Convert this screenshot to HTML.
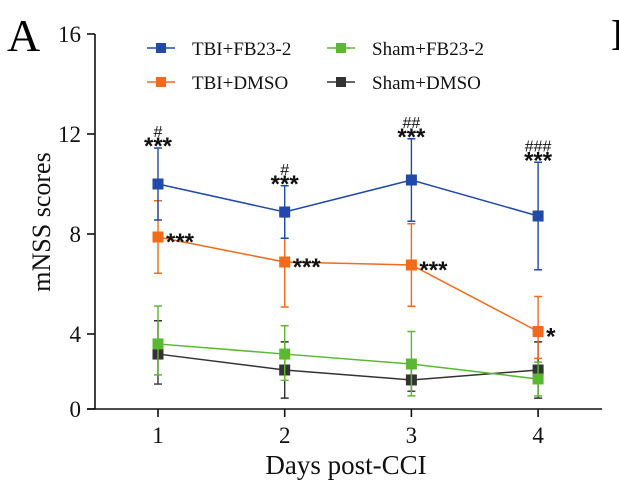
<!DOCTYPE html>
<html><head><meta charset="utf-8"><style>
html,body{margin:0;padding:0;background:#fff;}
svg{display:block;font-family:"Liberation Serif",serif;}
</style></head><body>
<svg id="chart" width="619" height="487" viewBox="0 0 619 487" xmlns="http://www.w3.org/2000/svg">
<text x="7" y="51" font-size="46">A</text>
<text x="611" y="50" font-size="46">B</text>
<g id="axes"></g>
<g id="series"></g>
<g id="legend"></g>
</svg>
<script>
const days = [1, 2, 3, 4];
const yTicks = [0, 4, 8, 12, 16];
const seriesNames = ["TBI+FB23-2", "TBI+DMSO", "Sham+FB23-2", "Sham+DMSO"];
const blueMean = [10.0, 8.88, 10.16, 8.72];
const blueErr = [1.44, 1.05, 1.65, 2.15];
const orangeMean = [7.88, 6.88, 6.76, 4.1];
const orangeErr = [1.45, 1.8, 1.65, 1.4];
const greenMean = [3.47, 2.93, 2.4, 1.6];
const greenErr = [1.65, 1.4, 1.7, 0.9];
const blackMean = [2.93, 2.08, 1.55, 2.08];
const blackErr = [1.6, 1.5, 0.6, 1.5];
const blueAnn = [["#","***"],["#","***"],["##","***"],["###","***"]];
const orangeAnn = ["***","***","***","*"];

const NS = "http://www.w3.org/2000/svg";
function el(tag, attrs, parent){const e=document.createElementNS(NS,tag);for(const k in attrs)e.setAttribute(k,attrs[k]);parent.appendChild(e);return e;}
function yScale(v){return v<=4 ? 409-v*18.75 : 334-(v-4)*25;}
function xScale(d){return 158+(d-1)*126.7;}

const axes=document.getElementById('axes');
const yAxis=el('line',{x1:95,y1:34,x2:95,y2:409,stroke:'#111','stroke-width':1.6},axes);


const xAxis=el('line',{x1:87,y1:409,x2:602,y2:409,stroke:'#111','stroke-width':1.6},axes);


yTicks.forEach(t=>{
  const y=yScale(t);
  el('line',{x1:87,y1:y,x2:95,y2:y,stroke:'#111','stroke-width':1.6},axes);
  const tx=el('text',{x:81,y:y+8,'font-size':23,'text-anchor':'end',fill:'#111'},axes);
  tx.textContent=t;
  
  
});
days.forEach(d=>{
  const x=xScale(d);
  el('line',{x1:x,y1:409,x2:x,y2:417,stroke:'#111','stroke-width':1.6},axes);
  const tx=el('text',{x:x,y:443,'font-size':23,'text-anchor':'middle',fill:'#111'},axes);
  tx.textContent=d;
  
  
});
const xt=el('text',{x:346,y:474,'font-size':27,'text-anchor':'middle',fill:'#111'},axes);
xt.textContent='Days post-CCI';


const yt=el('text',{x:0,y:0,'font-size':26,'text-anchor':'middle',fill:'#111',transform:'translate(50,222) rotate(-90)'},axes);
yt.textContent='mNSS scores';



const sg=document.getElementById('series');
const defs=[
 {name:'sham-dmso',mean:blackMean,err:blackErr,color:'#333333'},
 {name:'sham-fb23-2',mean:greenMean,err:greenErr,color:'#5cb833'},
 {name:'tbi-dmso',mean:orangeMean,err:orangeErr,color:'#f26a1b'},
 {name:'tbi-fb23-2',mean:blueMean,err:blueErr,color:'#2049a8'}
];
defs.forEach(s=>{
  const g=el('g',{},sg);
  
  
  s.mean.forEach((m,i)=>{
    const x=xScale(days[i]),top=yScale(m+s.err[i]),bot=yScale(Math.max(0,m-s.err[i]));
    const eb=el('path',{d:`M${x},${top}V${bot}M${x-4},${top}H${x+4}M${x-4},${bot}H${x+4}`,stroke:s.color,'stroke-width':1.4,fill:'none'},g);
    
    
  });
  const pts=s.mean.map((m,i)=>xScale(days[i])+','+yScale(m)).join(' ');
  const pl=el('polyline',{points:pts,stroke:s.color,'stroke-width':1.5,fill:'none'},g);
  
  
  s.mean.forEach((m,i)=>{
    const r=el('rect',{x:xScale(days[i])-5.5,y:yScale(m)-5.5,width:11,height:11,fill:s.color},g);
    
    
  });
});
blueMean.forEach((m,i)=>{
  const x=xScale(days[i]),top=yScale(m+blueErr[i]);
  const a=el('text',{x:x,y:top+6,'font-size':24,'font-weight':'bold','text-anchor':'middle','font-family':'Liberation Sans, sans-serif',fill:'#111'},sg);
  a.textContent=blueAnn[i][1];
  
  
  const h=el('text',{x:x,y:top-11,'font-size':16,'text-anchor':'middle','font-family':'Liberation Sans, sans-serif',fill:'#111'},sg);
  h.textContent=blueAnn[i][0];
  
  
});
orangeMean.forEach((m,i)=>{
  const a=el('text',{x:xScale(days[i])+8,y:yScale(m)+13,'font-size':24,'font-weight':'bold','font-family':'Liberation Sans, sans-serif',fill:'#111'},sg);
  a.textContent=orangeAnn[i];
  
  
});
const lg=document.getElementById('legend');
const legendColors=['#2049a8','#f26a1b','#5cb833','#333333'];
const legendOrder=[0,2,1,3];
legendOrder.forEach((si,k)=>{
  const col=k%2,row=Math.floor(k/2);
  const x0=147+col*180,y0=48+row*34;
  const g=el('g',{},lg);
  
  
  el('line',{x1:x0,y1:y0,x2:x0+28,y2:y0,stroke:legendColors[si],'stroke-width':1.5},g);
  el('rect',{x:x0+9,y:y0-5,width:10,height:10,fill:legendColors[si]},g);
  const t=el('text',{x:x0+45,y:y0+7,'font-size':19,fill:'#111'},g);
  t.textContent=seriesNames[si];
});
</script>
</body></html>
